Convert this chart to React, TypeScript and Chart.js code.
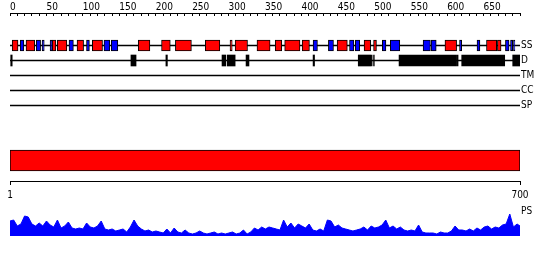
import React, { useEffect, useRef } from 'react';
import { Chart, registerables } from 'chart.js';

Chart.register(...registerables);

// ---------- data ----------
const SEQUENCE_LENGTH = 700;
const RULER_STEP = 10;
const RULER_LABEL_EVERY = 50;
const TRACKS = ['SS', 'D', 'TM', 'CC', 'SP'];
const LENGTH_ROWS = ['', 'Protein', ' '];
const LENGTH_TICKS = [1, 700];
const PS_LABEL = 'PS';

// secondary structure: helices (red)
const HELIX: [number, number][] = [
  [3, 11], [22, 34], [58, 63], [65, 78], [92, 101], [113, 127], [176, 192],
  [208, 220], [227, 249], [268, 288], [302, 305], [309, 326], [339, 357],
  [364, 373], [377, 398], [401, 411], [449, 463], [486, 495], [499, 503],
  [597, 613], [654, 668], [669, 674],
];
// secondary structure: strands (blue)
const STRAND: [number, number][] = [
  [14, 19], [36, 42], [44, 47], [55, 58], [81, 87], [105, 109], [129, 137],
  [139, 148], [416, 422], [437, 444], [466, 472], [474, 480], [511, 516],
  [522, 535], [567, 577], [578, 585], [617, 620], [641, 645], [680, 685],
  [687, 690], [691, 693],
];
// disorder (black)
const DISORDER: [number, number][] = [
  [1, 3], [166, 173], [214, 216], [291, 296], [298, 309], [324, 328],
  [416, 418], [478, 495], [496, 497], [499, 500], [534, 613], [614, 615],
  [620, 679], [690, 700],
];

// PS profile
const PS_RESIDUE = [
  1, 6, 11, 16, 21, 26, 31, 36, 41, 46,
  51, 56, 61, 66, 71, 76, 81, 86, 91, 96,
  101, 106, 111, 116, 121, 126, 131, 136, 141, 146,
  151, 156, 161, 166, 171, 176, 181, 186, 191, 196,
  201, 206, 211, 216, 221, 226, 231, 236, 241, 246,
  251, 256, 261, 266, 271, 276, 281, 286, 291, 296,
  301, 306, 311, 316, 321, 326, 331, 336, 341, 346,
  351, 356, 361, 366, 371, 376, 381, 386, 391, 396,
  401, 406, 411, 416, 421, 426, 431, 436, 441, 446,
  451, 456, 461, 466, 471, 476, 481, 486, 491, 496,
  501, 506, 511, 516, 521, 526, 531, 536, 541, 546,
  551, 556, 561, 566, 571, 576, 581, 586, 591, 596,
  601, 606, 611, 616, 621, 626, 631, 636, 641, 646,
  651, 656, 661, 666, 671, 676, 681, 686, 691, 696,
  700,
];
const PS_VALUE = [
  0.60, 0.64, 0.40, 0.48, 0.80, 0.76, 0.48, 0.40, 0.52, 0.40,
  0.60, 0.44, 0.36, 0.64, 0.32, 0.40, 0.56, 0.32, 0.28, 0.32,
  0.28, 0.52, 0.36, 0.32, 0.40, 0.60, 0.28, 0.24, 0.28, 0.20,
  0.24, 0.28, 0.16, 0.36, 0.64, 0.40, 0.28, 0.20, 0.24, 0.16,
  0.20, 0.16, 0.12, 0.28, 0.12, 0.32, 0.16, 0.12, 0.24, 0.12,
  0.08, 0.12, 0.20, 0.12, 0.08, 0.12, 0.16, 0.08, 0.12, 0.08,
  0.12, 0.16, 0.08, 0.12, 0.24, 0.08, 0.16, 0.32, 0.24, 0.36,
  0.28, 0.36, 0.32, 0.28, 0.24, 0.64, 0.36, 0.52, 0.32, 0.48,
  0.40, 0.32, 0.48, 0.24, 0.20, 0.28, 0.20, 0.64, 0.60, 0.36,
  0.44, 0.32, 0.28, 0.24, 0.20, 0.24, 0.28, 0.36, 0.24, 0.40,
  0.32, 0.36, 0.44, 0.64, 0.32, 0.40, 0.28, 0.36, 0.24, 0.20,
  0.24, 0.20, 0.44, 0.16, 0.12, 0.12, 0.12, 0.08, 0.16, 0.12,
  0.12, 0.20, 0.40, 0.24, 0.24, 0.20, 0.28, 0.20, 0.32, 0.24,
  0.36, 0.40, 0.28, 0.36, 0.32, 0.44, 0.48, 0.88, 0.36, 0.48,
  0.40,
];

// ---------- styles ----------
const FONT_FAMILY = "'DejaVu Sans Condensed', 'DejaVu Sans', sans-serif";
const FONT = { family: FONT_FAMILY, size: 10 };
const BLACK = '#000000';
const RED = '#ff0000';
const BLUE = '#0000ff';
const W = 550;
const H = 260;

const common = {
  animation: false as const,
  responsive: false,
  events: [] as any[],
  plugins: { legend: { display: false }, tooltip: { enabled: false } },
};

function rulerConfig(): any {
  return {
    type: 'line',
    data: { datasets: [] },
    options: {
      ...common,
      layout: { padding: { left: 10, right: 30, top: 0, bottom: 244 } },
      scales: {
        x: {
          type: 'linear',
          position: 'top',
          min: 0,
          max: SEQUENCE_LENGTH,
          afterFit: (s: any) => { s.height = 13; },
          ticks: {
            stepSize: RULER_STEP,
            autoSkip: false,
            minRotation: 0,
            maxRotation: 0,
            align: 'start',
            padding: 0,
            color: BLACK,
            font: FONT,
            callback: (v: number) =>
              v % RULER_LABEL_EVERY === 0 && v < SEQUENCE_LENGTH ? String(v) : '',
          },
          grid: { drawOnChartArea: true, drawTicks: false, color: BLACK, lineWidth: 1 },
          border: { display: true, color: BLACK, width: 1 },
        },
        y: { display: false, min: 0, max: 1 },
      },
    },
  };
}

function segs(track: string, list: [number, number][]) {
  return list.map(([a, b]) => ({ y: track, x: [a, b] }));
}

function tracksConfig(): any {
  return {
    type: 'bar',
    data: {
      labels: TRACKS,
      datasets: [
        {
          label: 'Helix', data: segs('SS', HELIX), backgroundColor: RED,
          borderColor: BLACK, borderWidth: 1, barThickness: 11, order: 1,
        },
        {
          label: 'Strand', data: segs('SS', STRAND), backgroundColor: BLUE,
          borderColor: BLACK, borderWidth: 1, barThickness: 11, order: 1,
        },
        {
          label: 'Disorder', data: segs('D', DISORDER), backgroundColor: BLACK,
          borderColor: BLACK, borderWidth: 0, barThickness: 11, order: 1,
        },
        {
          label: 'Track', data: TRACKS.map((t) => ({ y: t, x: [0, SEQUENCE_LENGTH] })),
          backgroundColor: BLACK, borderWidth: 0, barThickness: 1, order: 10,
        },
      ],
    },
    options: {
      ...common,
      indexAxis: 'y',
      datasets: { bar: { grouped: false, borderSkipped: false } },
      layout: { padding: { left: 10, right: 0, top: 38, bottom: 147 } },
      scales: {
        x: { type: 'linear', min: 0, max: SEQUENCE_LENGTH, display: false },
        y: {
          type: 'category',
          position: 'right',
          afterFit: (s: any) => { s.width = 30; },
          grid: { display: false, drawTicks: false },
          border: { display: false },
          ticks: { padding: 1, color: BLACK, font: FONT, autoSkip: false },
        },
      },
    },
  };
}

function lengthConfig(): any {
  return {
    type: 'bar',
    data: {
      labels: LENGTH_ROWS,
      datasets: [
        {
          label: 'Length',
          data: [{ y: LENGTH_ROWS[1], x: [LENGTH_TICKS[0], LENGTH_TICKS[1]] }],
          backgroundColor: RED, borderColor: BLACK, borderWidth: 1,
          barThickness: 21, borderSkipped: false,
        },
      ],
    },
    options: {
      ...common,
      indexAxis: 'y',
      layout: { padding: { left: 10, right: 30, top: 140, bottom: 49 } },
      scales: {
        x: {
          type: 'linear',
          position: 'bottom',
          min: LENGTH_TICKS[0],
          max: LENGTH_TICKS[1],
          afterFit: (s: any) => { s.height = 30; },
          afterBuildTicks: (s: any) => { s.ticks = LENGTH_TICKS.map((v) => ({ value: v })); },
          grid: { drawOnChartArea: false, drawTicks: true, tickLength: 4, color: BLACK },
          border: { display: true, color: BLACK, width: 1 },
          ticks: { autoSkip: false, minRotation: 0, maxRotation: 0, padding: 4, color: BLACK, font: FONT },
        },
        y: { type: 'category', display: false },
      },
    },
  };
}

function psConfig(): any {
  return {
    type: 'line',
    data: {
      datasets: [
        {
          label: PS_LABEL,
          data: PS_RESIDUE.map((r, i) => ({ x: r, y: PS_VALUE[i] })),
          borderColor: BLUE,
          backgroundColor: BLUE,
          borderWidth: 1,
          fill: 'origin',
          pointRadius: 0,
          tension: 0,
        },
      ],
    },
    options: {
      ...common,
      layout: { padding: { left: 10, right: 0, top: 211, bottom: 24 } },
      scales: {
        x: { type: 'linear', min: 1, max: SEQUENCE_LENGTH, display: false },
        y: {
          type: 'linear',
          min: 0,
          max: 1,
          position: 'right',
          afterFit: (s: any) => { s.width = 30; },
          afterBuildTicks: (s: any) => { s.ticks = [{ value: 1 }]; },
          grid: { display: false, drawTicks: false },
          border: { display: false },
          ticks: { padding: 1, color: BLACK, font: FONT, callback: () => PS_LABEL },
        },
      },
    },
  };
}

export default function App() {
  const rulerRef = useRef<HTMLCanvasElement>(null);
  const tracksRef = useRef<HTMLCanvasElement>(null);
  const lengthRef = useRef<HTMLCanvasElement>(null);
  const psRef = useRef<HTMLCanvasElement>(null);

  useEffect(() => {
    const charts = [
      new Chart(rulerRef.current as HTMLCanvasElement, rulerConfig()),
      new Chart(tracksRef.current as HTMLCanvasElement, tracksConfig()),
      new Chart(lengthRef.current as HTMLCanvasElement, lengthConfig()),
      new Chart(psRef.current as HTMLCanvasElement, psConfig()),
    ];
    return () => charts.forEach((c) => c.destroy());
  }, []);

  const cs: React.CSSProperties = { position: 'absolute', left: 0, top: 0, width: W, height: H };
  return (
    <div style={{ position: 'absolute', left: 0, top: 0, width: W, height: H, background: '#fff' }}>
      <canvas ref={rulerRef} width={W} height={H} style={cs} />
      <canvas ref={tracksRef} width={W} height={H} style={cs} />
      <canvas ref={lengthRef} width={W} height={H} style={cs} />
      <canvas ref={psRef} width={W} height={H} style={cs} />
    </div>
  );
}
